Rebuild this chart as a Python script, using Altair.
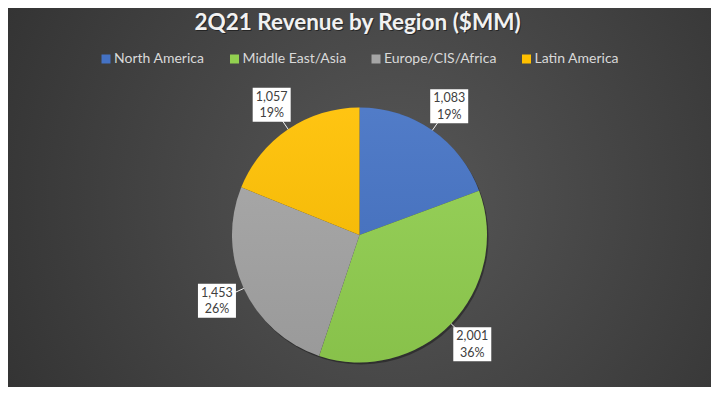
import altair as alt
import pandas as pd

# ---- data ----
regions = ["North America", "Middle East/Asia", "Europe/CIS/Africa", "Latin America"]
revenue = [1083, 2001, 1453, 1057]
colors = ["#4472C4", "#92D050", "#A5A5A5", "#FFC000"]
title_text = "2Q21 Revenue by Region ($MM)"

# ---- layout ----
W, H = 703, 379
CX, CY, R = 351.5, 227, 127.5
LR = 157          # label radius
BW, BH = 19, 17   # half box size
FONT = "Lato"

df = pd.DataFrame({"region": regions, "revenue": revenue, "idx": list(range(len(regions)))})
base = alt.Chart(df)
one = alt.Data(values=[{"a": 1}])

bg = alt.Chart(one).mark_rect(
    color={"gradient": "radial", "x1": 0.55, "y1": 0.5, "x2": 0.55, "y2": 0.5, "r1": 0, "r2": 0.75,
           "stops": [{"offset": 0, "color": "#575757"}, {"offset": 1, "color": "#2c2c2c"}]}
).encode(x=alt.value(0), x2=alt.value(W), y=alt.value(0), y2=alt.value(H))

title_shadow = alt.Chart(one).mark_text(
    text=title_text, font=FONT, fontSize=22.5, fontWeight="bold", color="#000000", opacity=0.45,
    align="center", baseline="alphabetic"
).encode(x=alt.value(W / 2 - 1), y=alt.value(23))
title = alt.Chart(one).mark_text(
    text=title_text, font=FONT, fontSize=22.5, fontWeight="bold", color="#f2f2f2",
    align="center", baseline="alphabetic"
).encode(x=alt.value(W / 2 - 2), y=alt.value(22))

shadow = alt.Chart(one).mark_arc(
    theta=0, theta2=6.2832, outerRadius=R, color="#000000", opacity=0.35
).encode(x=alt.value(CX + 1.5), y=alt.value(CY + 2))

pie = base.mark_arc(outerRadius=R).encode(
    theta=alt.Theta("revenue:Q", stack=True),
    color=alt.Color(
        "region:N",
        scale=alt.Scale(domain=regions, range=colors),
        legend=alt.Legend(
            orient="none", legendX=91, legendY=44, direction="horizontal", title=None,
            symbolType="square", symbolSize=81, symbolStrokeWidth=0,
            labelFont=FONT, labelFontSize=14, labelColor="#d9d9d9",
            columnPadding=22.5, labelOffset=1, padding=0,
        ),
    ),
    order=alt.Order("idx:Q"),
    x=alt.value(CX),
    y=alt.value(CY),
)

overlay = alt.Chart(one).mark_arc(
    theta=0, theta2=6.2832, outerRadius=R,
    color={"gradient": "linear", "x1": 0, "y1": 0, "x2": 0, "y2": 1,
           "stops": [{"offset": 0, "color": "rgba(255,255,255,0.07)"},
                     {"offset": 1, "color": "rgba(0,0,0,0.07)"}]}
).encode(x=alt.value(CX), y=alt.value(CY))

pos = base.transform_joinaggregate(total="sum(revenue)").transform_window(
    cum="sum(revenue)", sort=[alt.SortField("idx")], frame=[None, 0]
).transform_calculate(
    mid="(datum.cum - datum.revenue / 2) / datum.total * 2 * PI",
    lx=f"{CX} + {LR} * sin(datum.mid)",
    ly=f"{CY} - {LR} * cos(datum.mid)",
    ax=f"{CX} + {R} * sin(datum.mid)",
    ay=f"{CY} - {R} * cos(datum.mid)",
    bx=f"{CX} + {LR - 18} * sin(datum.mid)",
    by=f"{CY} - {LR - 18} * cos(datum.mid)",
    bx1=f"datum.lx - {BW}", bx2=f"datum.lx + {BW}",
    by1=f"datum.ly - {BH}", by2=f"datum.ly + {BH}",
    label="format(datum.revenue, ',') + '\\n' + format(datum.revenue / datum.total, '.0%')",
)

leaders = pos.mark_rule(color="#f2f2f2", strokeWidth=1).encode(
    x=alt.X("ax:Q", scale=None), y=alt.Y("ay:Q", scale=None),
    x2="bx:Q", y2="by:Q",
)
boxes = pos.mark_rect(color="#ffffff").encode(
    x=alt.X("bx1:Q", scale=None), x2="bx2:Q",
    y=alt.Y("by1:Q", scale=None), y2="by2:Q",
)
labels = pos.mark_text(
    font=FONT, fontSize=12.5, color="#404040", lineBreak="\n", lineHeight=16.5,
    align="center", baseline="middle", dy=-8
).encode(
    x=alt.X("lx:Q", scale=None), y=alt.Y("ly:Q", scale=None), text="label:N"
)

chart = alt.layer(
    bg, title_shadow, title, shadow, pie, overlay, leaders, boxes, labels
).properties(
    width=W, height=H, padding=0, autosize=alt.AutoSizeParams(type="none")
).configure_view(stroke=None).configure(background="#333333")

chart.save("out.html", embed_options={"renderer": "svg", "actions": False})
